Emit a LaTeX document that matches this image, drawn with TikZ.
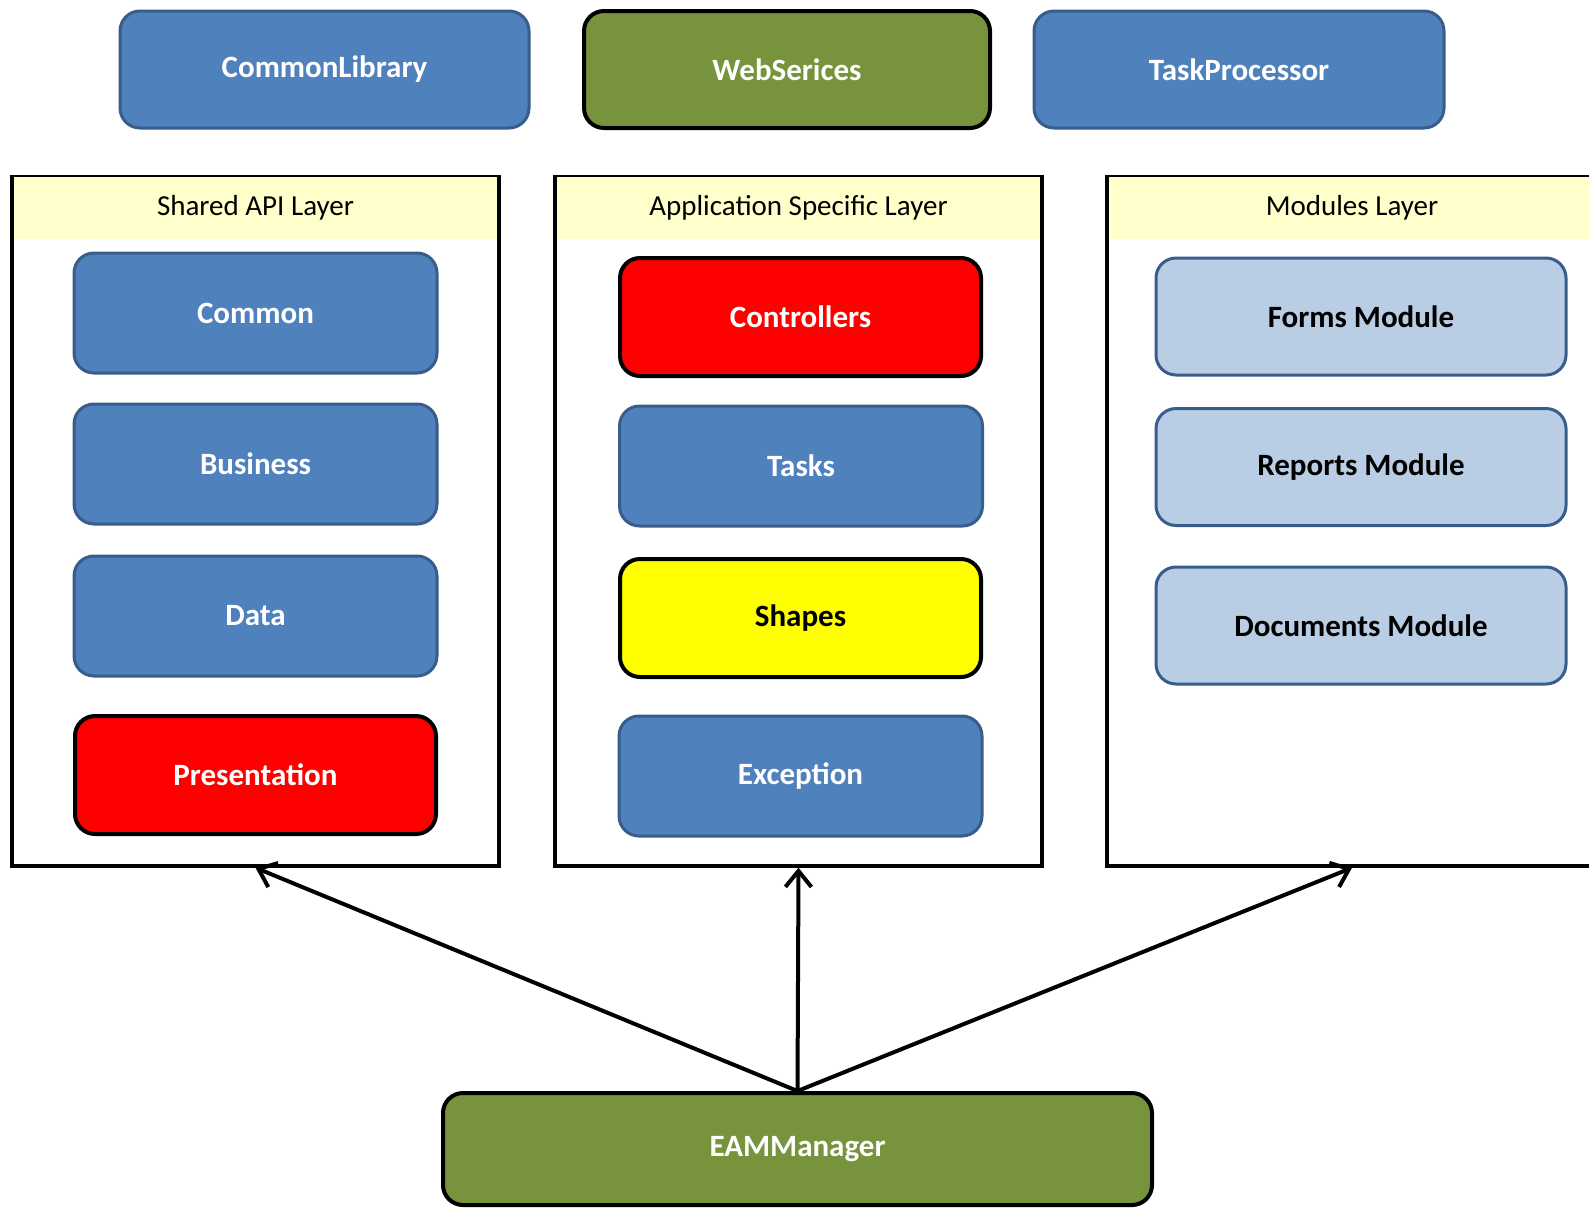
\documentclass[tikz,border=0pt]{standalone}
\usepackage{fontspec}
\setmainfont{Carlito}
\usetikzlibrary{arrows.meta}
\definecolor{ofblue}{HTML}{4F81BD}
\definecolor{ofedge}{HTML}{385D8A}
\definecolor{ofgreen}{HTML}{77933C}
\definecolor{modfill}{HTML}{B9CDE5}
\definecolor{hdrfill}{HTML}{FFFFCC}
\definecolor{pureyellow}{RGB}{255,255,0}
\begin{document}
\begin{tikzpicture}[x=1pt,y=-1pt,
  box/.style={rounded corners=20pt, line width=3pt, inner sep=0pt,
    font=\fontsize{31}{36}\selectfont\bfseries},
  bluebox/.style={box, fill=ofblue, draw=ofedge, text=white},
  greenbox/.style={box, fill=ofgreen, draw=black, line width=4pt, text=white},
  redbox/.style={box, fill=red, draw=black, line width=4pt, text=white},
  yellowbox/.style={box, fill=pureyellow, draw=black, line width=4pt, text=black},
  modbox/.style={box, fill=modfill, draw=ofedge, text=black},
  layerbox/.style={draw=black, line width=3.5pt, fill=white, inner sep=0pt},
  layerhead/.style={fill=hdrfill, draw=none, inner sep=0pt, minimum height=62pt,
    font=\fontsize{29}{34}\selectfont},
  dep/.style={line width=4pt, -{Straight Barb[length=16pt,width=26pt]}}
]
\clip (0,0) rectangle (1589,1208);
\fill[white] (0,0) rectangle (1589,1208);

% top row of libraries
\node[bluebox, minimum width=409pt, minimum height=117pt] (commonlib) at (324.5,69.5) {CommonLibrary};
\node[greenbox, minimum width=406pt, minimum height=117pt] (websvc) at (787,69.5) {WebSerices};
\node[bluebox, minimum width=410pt, minimum height=117pt] (taskproc) at (1239,69.5) {TaskProcessor};

% layer containers
\node[layerbox, minimum width=487pt, minimum height=689pt] (shared) at (255.5,521.5) {};
\node[layerbox, minimum width=487pt, minimum height=689pt] (app) at (798.5,521.5) {};
\node[layerbox, minimum width=490pt, minimum height=689pt] (mods) at (1352,521.5) {};

\node[layerhead, anchor=north, minimum width=483pt, yshift=-1.8pt] (sharedhead) at (shared.north) {Shared API Layer};
\node[layerhead, anchor=north, minimum width=483pt, yshift=-1.8pt] (apphead) at (app.north) {Application Specific Layer};
\node[layerhead, anchor=north, minimum width=486pt, yshift=-1.8pt] (modshead) at (mods.north) {Modules Layer};

% shared API layer
\node[bluebox, minimum width=363pt, minimum height=120pt] (common) at (255.5,313) {Common};
\node[bluebox, minimum width=363pt, minimum height=120pt] (business) at (255.5,464) {Business};
\node[bluebox, minimum width=363pt, minimum height=120pt] (data) at (255.5,616) {Data};
\node[redbox, minimum width=361pt, minimum height=118pt] (presentation) at (255.5,775) {Presentation};

% application specific layer
\node[redbox, minimum width=361pt, minimum height=118pt] (controllers) at (800.5,317) {Controllers};
\node[bluebox, minimum width=363pt, minimum height=120pt] (tasks) at (801,466) {Tasks};
\node[yellowbox, minimum width=361pt, minimum height=118pt] (shapes) at (800.5,618) {Shapes};
\node[bluebox, minimum width=363pt, minimum height=120pt] (exception) at (800.5,776) {Exception};

% modules layer
\node[modbox, minimum width=410pt, minimum height=117pt] (forms) at (1361,316.5) {Forms Module};
\node[modbox, minimum width=410pt, minimum height=117pt] (reports) at (1361,467) {Reports Module};
\node[modbox, minimum width=410pt, minimum height=117pt] (documents) at (1361,625.5) {Documents Module};

% manager and its dependencies
\node[greenbox, minimum width=709pt, minimum height=112pt] (eam) at (797.5,1149) {EAMManager};

\draw[dep] (eam.north) -- (shared.south);
\draw[dep] (eam.north) -- (app.south);
\draw[dep] (eam.north) -- (mods.south);
\end{tikzpicture}
\end{document}
